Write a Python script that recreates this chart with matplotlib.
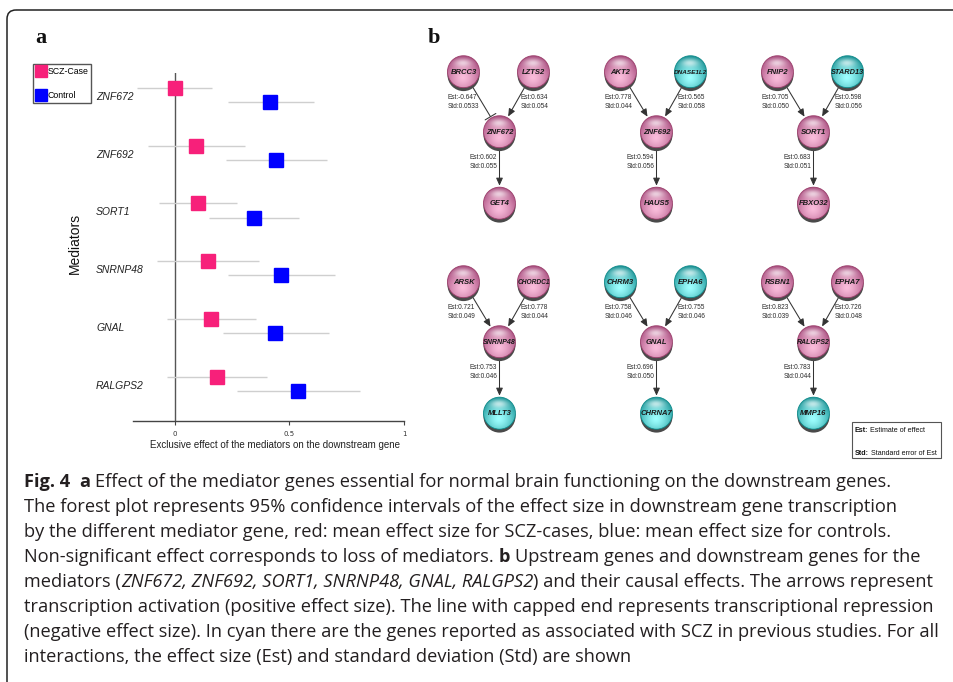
import numpy as np
import matplotlib
matplotlib.use("Agg")
import matplotlib.pyplot as plt
from matplotlib import font_manager as fm
from matplotlib.patches import Circle, FancyArrowPatch, FancyBboxPatch, Rectangle
import matplotlib.transforms as mtransforms

# ---------------- data ----------------
mediators = ["ZNF672", "ZNF692", "SORT1", "SNRNP48", "GNAL", "RALGPS2"]
case_mean = [0.000, 0.093, 0.100, 0.145, 0.159, 0.183]
case_lo = [-0.164, -0.119, -0.068, -0.078, -0.033, -0.036]
case_hi = [0.162, 0.307, 0.270, 0.367, 0.354, 0.401]
ctrl_mean = [0.417, 0.442, 0.345, 0.464, 0.439, 0.539]
ctrl_lo = [0.230, 0.223, 0.148, 0.230, 0.209, 0.272]
ctrl_hi = [0.606, 0.662, 0.543, 0.698, 0.671, 0.806]
xticks = [0, 0.5, 1]
xtick_labels = ["0", "0.5", "1"]

up_left = ["BRCC3", "AKT2", "FNIP2", "ARSK", "CHRM3", "RSBN1"]
up_right = ["LZTS2", "DNASE1L2", "STARD13", "CHORDC1", "EPHA6", "EPHA7"]
downstream = ["GET4", "HAUS5", "FBXO32", "MLLT3", "CHRNA7", "MMP16"]
est_left = [-0.647, 0.778, 0.705, 0.721, 0.758, 0.823]
std_left = ["0.0533", "0.044", "0.050", "0.049", "0.046", "0.039"]
est_right = [0.634, 0.565, 0.598, 0.778, 0.755, 0.726]
std_right = ["0.054", "0.058", "0.056", "0.044", "0.046", "0.048"]
est_down = [0.602, 0.594, 0.683, 0.753, 0.696, 0.783]
std_down = ["0.055", "0.056", "0.051", "0.046", "0.050", "0.044"]
cyan_genes = ["DNASE1L2", "STARD13", "MLLT3", "CHRM3", "EPHA6", "CHRNA7", "MMP16"]

caption_lines = [
    [("Fig. 4", "b"), ("\u2003", "r"), ("a", "b"), ("Effect of the mediator genes essential for normal brain functioning on the downstream genes.", "r")],
    [("The forest plot represents 95% confidence intervals of the effect size in downstream gene transcription", "r")],
    [("by the different mediator gene, red: mean effect size for SCZ-cases, blue: mean effect size for controls.", "r")],
    [("Non-significant effect corresponds to loss of mediators.", "r"), ("b", "b"), ("Upstream genes and downstream genes for the", "r")],
    [("mediators (", "r"), ("ZNF672, ZNF692, SORT1, SNRNP48, GNAL, RALGPS2", "i"), (") and their causal effects. The arrows represent", "r")],
    [("transcription activation (positive effect size). The line with capped end represents transcriptional repression", "r")],
    [("(negative effect size). In cyan there are the genes reported as associated with SCZ in previous studies. For all", "r")],
    [("interactions, the effect size (Est) and standard deviation (Std) are shown", "r")],
]


def has_font(name):
    try:
        fm.findfont(fm.FontProperties(family=name), fallback_to_default=False)
        return True
    except Exception:
        return False


NARROW = "Liberation Sans Narrow" if has_font("Liberation Sans Narrow") else "Liberation Sans"
CAPF = "Open Sans" if has_font("Open Sans") else "DejaVu Sans"

W, H = 954, 682
fig = plt.figure(figsize=(W / 100, H / 100), dpi=100, facecolor="white")
renderer = fig.canvas.get_renderer()

ov = fig.add_axes([0, 0, 1, 1])
ov.set_xlim(0, W)
ov.set_ylim(H, 0)
ov.axis("off")


def text_width(s, **kw):
    t = ov.text(0, 0, s, **kw)
    w = t.get_window_extent(renderer).width
    t.remove()
    return w


# outer frame
frame = FancyBboxPatch((7, 10), 1000, 720, boxstyle="round,pad=0,rounding_size=9",
                       fill=False, ec="#222222", lw=1.1)
ov.add_patch(frame)

ov.text(41, 43, "a", ha="center", va="baseline", family="Liberation Serif",
        weight="bold", fontsize=16, color="#111111")
ov.text(433.5, 43, "b", ha="center", va="baseline", family="Liberation Serif",
        weight="bold", fontsize=16, color="#111111")

# ---------------- panel a: forest plot ----------------
ax = fig.add_axes([133 / W, 1 - 421 / H, 271 / W, 348 / H])
ax.patch.set_visible(False)
off = 0.248
ys = np.arange(len(mediators))
ax.set_xlim(-0.183, 1.0)
ax.set_ylim(5.768, -0.255)
ax.axvline(0, color="#555555", lw=1.0, zorder=1)
ax.hlines(ys, case_lo, case_hi, color="#cfcfcf", lw=1.0, zorder=2)
ax.hlines(ys + off, ctrl_lo, ctrl_hi, color="#cfcfcf", lw=1.0, zorder=2)
h_case, = ax.plot(case_mean, ys, "s", color="#F7207A", ms=9.4, ls="none", zorder=3, label="SCZ-Case")
h_ctrl, = ax.plot(ctrl_mean, ys + off, "s", color="#0000FF", ms=9.4, ls="none", zorder=3, label="Control")
for s in ["top", "right", "left"]:
    ax.spines[s].set_visible(False)
ax.spines["bottom"].set_color("#444444")
ax.spines["bottom"].set_linewidth(1.0)
ax.set_yticks([])
ax.set_xticks(xticks)
ax.set_xticklabels(xtick_labels)
ax.tick_params(axis="x", length=3, width=0.8, color="#444444", labelsize=5, pad=4,
               labelcolor="#333333")

trans = mtransforms.blended_transform_factory(ov.transData, ax.transData)
for i, m in enumerate(mediators):
    ax.text(96, i + 0.156, m, transform=trans, ha="left", va="center", fontsize=7.5,
            style="italic", family="Liberation Sans", color="#222222")

ov.text(75, 243, "Mediators", rotation=90, ha="center", va="center", fontsize=10,
        family="Liberation Sans", color="#111111")
ov.text(275, 445, "Exclusive effect of the mediators on the downstream gene", ha="center",
        va="center", fontsize=7, family="Liberation Sans", color="#222222")

leg = ax.legend(handles=[h_case, h_ctrl], loc="upper left",
                bbox_to_anchor=(33 / W, 1 - 64 / H), bbox_transform=fig.transFigure,
                borderaxespad=0, frameon=True, fancybox=False, framealpha=1,
                edgecolor="#555555", borderpad=0.3, handlelength=1.3, handletextpad=0.1,
                labelspacing=1.75, markerscale=0.85,
                prop={"family": "Liberation Sans", "size": 6.3})
leg.get_frame().set_linewidth(1.0)

# ---------------- panel b: networks ----------------
R = 16.0


def sphere_img(dark, light, n=80):
    yy, xx = np.mgrid[-1:1:n * 1j, -1:1:n * 1j]
    d = np.hypot(xx, yy - 0.35)
    t = np.clip(d / 1.35, 0, 1) ** 1.4
    dark = np.array(dark)
    light = np.array(light)
    rgb = light[None, None, :] * (1 - t[..., None]) + dark[None, None, :] * t[..., None]
    h = np.exp(-((xx / 0.55) ** 2 + ((yy + 0.58) / 0.26) ** 2))[..., None]
    rgb = rgb * (1 - 0.65 * h) + 0.65 * h
    return np.clip(rgb, 0, 1)


IMG_PINK = sphere_img((0.64, 0.27, 0.47), (0.98, 0.74, 0.86))
IMG_CYAN = sphere_img((0.06, 0.55, 0.56), (0.62, 1.0, 1.0))


def draw_node(x, y, name):
    ov.add_patch(Circle((x, y + 3.4), R, color="#4a4a4a", lw=0, zorder=3))
    img = IMG_CYAN if name in cyan_genes else IMG_PINK
    im = ov.imshow(img, extent=(x - R, x + R, y + R, y - R), origin="upper",
                   interpolation="bilinear", zorder=4, aspect="auto")
    clip = Circle((x, y), R, transform=ov.transData)
    im.set_clip_path(clip)
    edge = "#0d8a8a" if name in cyan_genes else "#9a3d6a"
    ov.add_patch(Circle((x, y), R, fill=False, ec=edge, lw=0.6, zorder=5))
    kw = dict(style="italic", weight="bold", family="Liberation Sans")
    w = text_width(name, fontsize=5.5, **kw)
    fs = min(5.5, 5.5 * 33.0 / w)
    ov.text(x, y + 0.5, name, ha="center", va="center", fontsize=fs, color="#1a1a1a",
            zorder=6, **kw)


def draw_edge(p0, p1, inhibit=False):
    p0 = np.array(p0, float)
    p1 = np.array(p1, float)
    u = (p1 - p0) / np.hypot(*(p1 - p0))
    a = p0 + u * (R + 2.5)
    b = p1 - u * (R + 1.5)
    style = "-[,widthB=0.45,lengthB=0" if inhibit else "-|>,head_length=0.45,head_width=0.2"
    ov.add_patch(FancyArrowPatch(tuple(a), tuple(b), arrowstyle=style, mutation_scale=10,
                                 color="#333333", lw=0.75, shrinkA=0, shrinkB=0, zorder=2))


col_x = [499.5, 656.5, 813.5]
row_y = [131.7, 341.7]
EFS = 4.7
for k in range(6):
    mx = col_x[k % 3]
    my = row_y[k // 3]
    pl = (mx - 36, my - 60)
    pr = (mx + 34, my - 60)
    pd = (mx, my + 71.5)
    draw_edge(pl, (mx, my), inhibit=est_left[k] < 0)
    draw_edge(pr, (mx, my))
    draw_edge((mx, my), pd)
    for name, p in [(up_left[k], pl), (up_right[k], pr), (mediators[k], (mx, my)), (downstream[k], pd)]:
        draw_node(p[0], p[1], name)
    for (tx, ty, e, s) in [(mx - 51.5, my - 34, est_left[k], std_left[k]),
                           (mx + 21.5, my - 34, est_right[k], std_right[k]),
                           (mx - 29.5, my + 25.5, est_down[k], std_down[k])]:
        ov.text(tx, ty, f"Est:{e:.3f}", ha="left", va="center", fontsize=EFS,
                family="Liberation Sans", color="#2a2a2a")
        ov.text(tx, ty + 9, f"Std:{s}", ha="left", va="center", fontsize=EFS,
                family="Liberation Sans", color="#2a2a2a")


# ---------------- segment text helper ----------------
def draw_segments(x, y, segs, size, family, color):
    base = dict(fontsize=size, family=family)
    sw = text_width("a a", **base) - text_width("aa", **base)
    for j, (s, st) in enumerate(segs):
        kw = dict(base)
        if st == "b":
            kw["weight"] = "bold"
        elif st == "i":
            kw["style"] = "italic"
        if s == "\u2003":
            x += sw * 1.0
            continue
        t = ov.text(x, y, s, ha="left", va="baseline", color=color, **kw)
        x += t.get_window_extent(renderer).width
        nxt = segs[j + 1][0] if j + 1 < len(segs) else ""
        if nxt and not s.endswith("(") and not nxt.startswith(")"):
            x += sw
    return x


# panel b legend box
ov.add_patch(Rectangle((852, 422), 89, 36, fill=True, fc="white", ec="#555555", lw=0.8, zorder=7))
lw_full = text_width("Std: Standard error of Est", fontsize=6.0, family=NARROW)
leg_fs = min(6.0, 6.0 * 82.0 / lw_full)
for yy, segs in [(432, [("Est:", "b"), ("Estimate of effect", "r")]),
                 (455, [("Std:", "b"), ("Standard error of Est", "r")])]:
    x = 855
    for j, (s, st) in enumerate(segs):
        t = ov.text(x, yy, s, ha="left", va="baseline", fontsize=leg_fs, family=NARROW,
                    weight="bold" if st == "b" else "normal", color="#111111", zorder=8)
        x += t.get_window_extent(renderer).width + 2.0

# caption with auto-fit size
base_size = 12.0
w6 = text_width(caption_lines[5][0][0], fontsize=base_size, family=CAPF)
cap_size = base_size * (932 - 24) / w6
for li, segs in enumerate(caption_lines):
    draw_segments(24, 487 + li * 25.0, segs, cap_size, CAPF, "#231F20")

fig.savefig("out.png", dpi=100, facecolor="white")
